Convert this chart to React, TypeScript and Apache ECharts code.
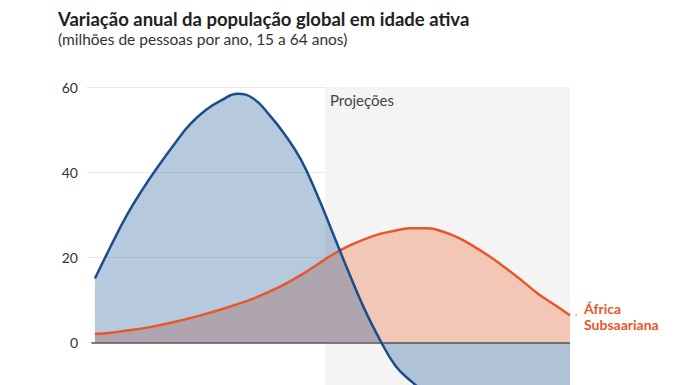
import React, { useEffect, useRef } from "react";
import * as echarts from "echarts";

const years = [
  1950, 1955, 1960, 1965, 1970, 1975, 1980, 1985, 1990, 1995, 2000, 2005, 2010,
  2015, 2020, 2025, 2030, 2035, 2040, 2045, 2050, 2055, 2060, 2065, 2070, 2075,
  2080, 2085, 2090, 2095, 2100,
];
const globalValues = [
  15.0, 22.6, 29.8, 35.9, 41.4, 46.5, 51.2, 54.6, 56.9, 58.4, 57.3, 53.5, 48.8,
  43.0, 35.0, 25.9, 16.7, 8.0, 0.6, -5.6, -9.2, -12.0, -13.5, -14.5, -15.0,
  -15.0, -15.0, -14.5, -14.0, -13.5, -13.0,
];
const africaValues = [
  2.0, 2.3, 2.8, 3.3, 4.0, 4.8, 5.7, 6.7, 7.8, 9.0, 10.3, 11.9, 13.7, 15.8,
  18.2, 20.6, 22.6, 24.2, 25.5, 26.3, 26.8, 26.8, 26.0, 24.5, 22.4, 20.0, 17.3,
  14.4, 11.4, 8.9, 6.4,
];
const yTicks = [0, 20, 40, 60];
const projectionStart = 2022.6;
const projectionEnd = 2100;

const titleText = "Variação anual da população global em idade ativa";
const subtitleText = "(milhões de pessoas por ano, 15 a 64 anos)";
const projectionLabel = "Projeções";
const africaLabel = "África\nSubsaariana";

const FONT = "Lato, 'Noto Sans', sans-serif";

export default function App() {
  const ref = useRef<HTMLDivElement>(null);
  useEffect(() => {
    document.body.style.margin = "0";
    if (!ref.current) return;
    const chart = echarts.init(ref.current, null, { renderer: "svg" });
    const globalData = years.map((y, i) => [y, globalValues[i]]);
    const africaData = years.map((y, i) => [y, africaValues[i]]);
    const smooth = 0.45;
    chart.setOption({
      animation: false,
      textStyle: { fontFamily: FONT },
      grid: { left: 87, right: 126, top: 87, bottom: 0, containLabel: false },
      xAxis: {
        type: "value",
        min: 1947.5,
        max: 2100,
        show: false,
      },
      yAxis: {
        type: "value",
        min: -10,
        max: 60,
        splitNumber: 4,
        axisLine: { show: false },
        axisTick: { show: false },
        axisLabel: {
          margin: 9,
          color: "#333",
          fontSize: 14,
          fontFamily: FONT,
          showMinLabel: false,
          formatter: (v: number) => (yTicks.includes(v) ? String(v) : ""),
        },
        splitLine: { lineStyle: { color: "#e8e8e8", width: 1 } },
      },
      series: [
        {
          type: "line",
          name: "africaArea",
          data: africaData,
          smooth,
          showSymbol: false,
          lineStyle: { width: 0 },
          areaStyle: { color: "#f2c7b6", opacity: 1 },
          z: 2,
          markArea: {
            silent: true,
            itemStyle: { color: "#f4f4f4" },
            data: [
              [
                { coord: [projectionStart, 60.4] },
                { coord: [projectionEnd, -10] },
              ],
            ],
          },
        },
        {
          type: "line",
          name: "globalArea",
          data: globalData,
          smooth,
          showSymbol: false,
          lineStyle: { width: 0 },
          areaStyle: { color: "rgb(60,108,163)", opacity: 0.37 },
          z: 3,
        },
        {
          type: "line",
          name: "zero",
          data: [],
          markLine: {
            silent: true,
            symbol: "none",
            label: { show: false },
            lineStyle: { color: "#555", width: 1.5, type: "solid" },
            data: [[{ coord: [1948.9, 0] }, { coord: [2100, 0] }]],
          },
          z: 4,
        },
        {
          type: "line",
          name: "africaLine",
          data: africaData,
          smooth,
          showSymbol: false,
          lineStyle: { width: 2.5, color: "#e8572a" },
          z: 5,
        },
        {
          type: "line",
          name: "globalLine",
          data: globalData,
          smooth,
          showSymbol: false,
          lineStyle: { width: 2.5, color: "#1b4d8e" },
          z: 6,
        },
      ],
      graphic: [
        {
          type: "text",
          left: 58,
          top: 9,
          style: {
            text: titleText,
            font: `bold 18.5px ${FONT}`,
            fill: "#222",
          },
        },
        {
          type: "text",
          left: 58,
          top: 31,
          style: {
            text: subtitleText,
            font: `15.5px ${FONT}`,
            fill: "#333",
          },
        },
        {
          type: "text",
          left: 330,
          top: 92,
          z: 10,
          style: {
            text: projectionLabel,
            font: `15px ${FONT}`,
            fill: "#444",
          },
        },
        {
          type: "text",
          left: 584,
          top: 300,
          style: {
            text: africaLabel,
            font: `bold 14px ${FONT}`,
            fill: "#e8572a",
            lineHeight: 16,
          },
        },
        {
          type: "circle",
          shape: { cx: 576, cy: 315, r: 1 },
          style: { fill: "#bbb" },
        },
      ],
    });
    return () => chart.dispose();
  }, []);
  return <div ref={ref} style={{ width: 696, height: 385 }} />;
}
